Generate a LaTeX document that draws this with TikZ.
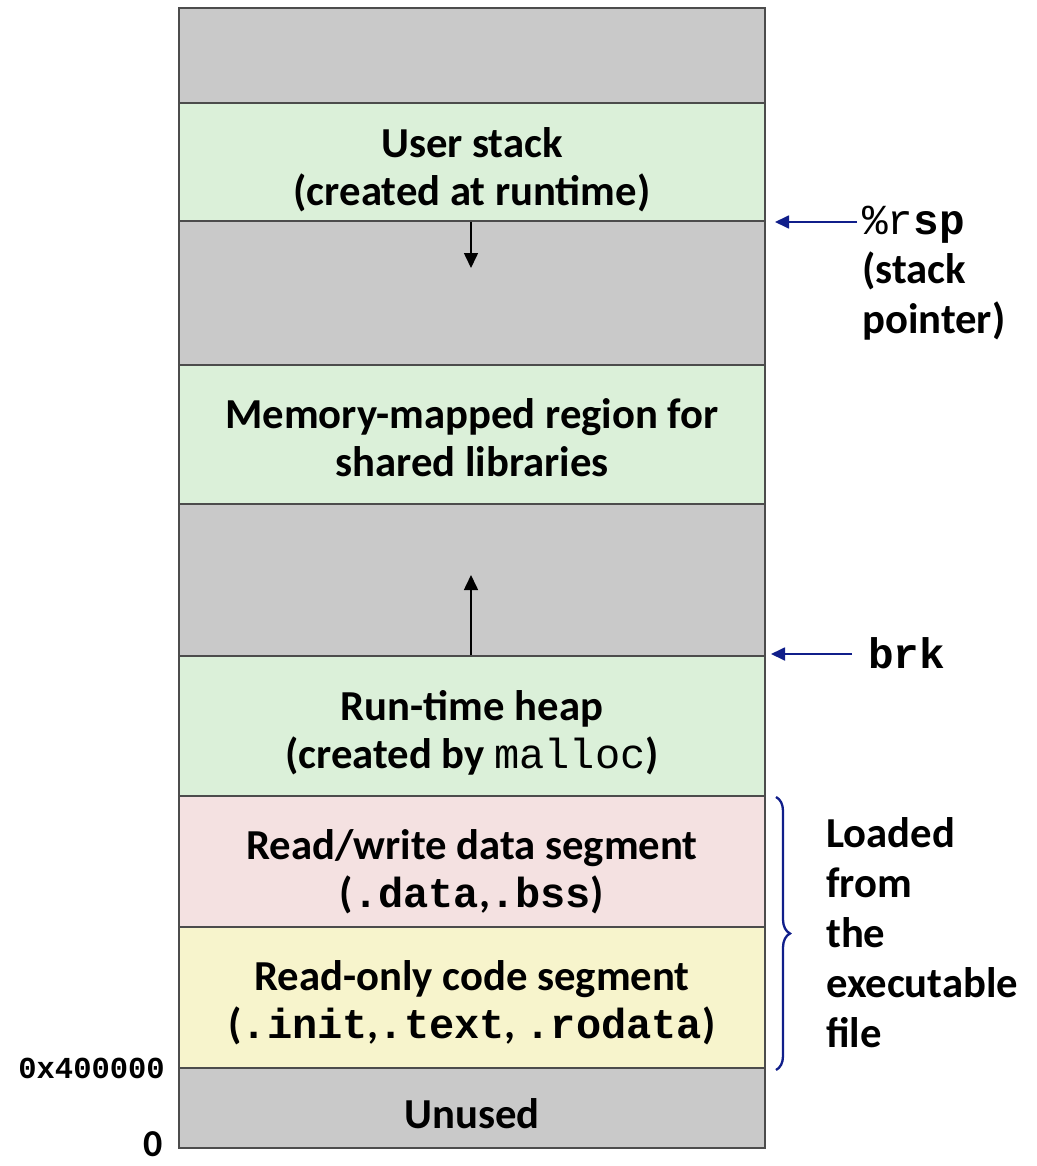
\documentclass[tikz,border=0pt]{standalone}
\usepackage{fontspec}
\setmainfont{Carlito}
\newfontfamily\codefont{Liberation Mono}
\usetikzlibrary{arrows.meta,decorations.pathreplacing}

\definecolor{gapgray}{HTML}{C9C9C9}
\definecolor{stackgreen}{HTML}{DBF0D9}
\definecolor{datapink}{HTML}{F4E1E1}
\definecolor{codeyellow}{HTML}{F7F4CC}
\definecolor{navy}{HTML}{101E8A}

% inline code inside the segment captions
\newcommand{\segcode}[1]{{\fontsize{42}{48}\selectfont\codefont\bfseries #1}}
\newcommand{\segcodelight}[1]{{\fontsize{42}{48}\selectfont\codefont\mdseries #1}}

\begin{document}
\begin{tikzpicture}[x=1pt,y=-1pt,
  seg/.style={draw=black!70, line width=1.3pt, minimum width=586pt,
    inner sep=0pt},
  segtext/.style={inner sep=0pt, align=center,
    font=\fontsize{42.7}{48}\selectfont\bfseries},
  lbl/.style={inner sep=0pt, align=left,
    font=\fontsize{42.7}{50}\selectfont\bfseries},
  growarrow/.style={line width=1.6pt, -{Triangle[length=15pt,width=14pt]}},
  ptrarrow/.style={navy, line width=1.8pt, -{Triangle[length=14pt,width=13pt]}}]

\useasboundingbox (0,0) rectangle (1036,1166);

% address-space segments, top to bottom
\node[seg, fill=gapgray,    minimum height=95pt]  (gaptop)  at (472,55.5) {};
\node[seg, fill=stackgreen, minimum height=118pt,
  label={[segtext, yshift=-8pt]center:{User stack\\(created at runtime)}}]
  (stack)   at (472,162) {};
\node[seg, fill=gapgray,    minimum height=144pt] (gapstk)  at (472,293) {};
\node[seg, fill=stackgreen, minimum height=139pt,
  label={[segtext, yshift=-3.5pt]center:{Memory-mapped region for\\shared libraries}}]
  (mmap)    at (472,434.5) {};
\node[seg, fill=gapgray,    minimum height=152pt] (gapheap) at (472,580) {};
\node[seg, fill=stackgreen, minimum height=140pt,
  label={[segtext, yshift=-6.5pt]center:{Run-time heap\\(created by \segcodelight{malloc})}}]
  (heap)    at (472,726) {};
\node[seg, fill=datapink,   minimum height=131pt,
  label={[segtext, yshift=-10pt]center:{Read/write data segment\\(\segcode{.data},\segcode{.bss})}}]
  (data)    at (472,861.5) {};
\node[seg, fill=codeyellow, minimum height=141pt,
  label={[segtext, yshift=-5.5pt]center:{Read-only code segment\\(\segcode{.init},\segcode{.text}, \segcode{.rodata})}}]
  (code)    at (472,997.5) {};
\node[seg, fill=gapgray,    minimum height=80pt,
  label={[segtext, yshift=-6pt]center:{Unused}}]
  (unused)  at (472,1108) {};

% growth directions of stack and heap
\coordinate (stackgrow) at (471,268);
\coordinate (heapgrow)  at (471,575);
\draw[growarrow] (stack.south -| stackgrow) -- (stackgrow);
\draw[growarrow] (heap.north -| heapgrow) -- (heapgrow);

% stack pointer
\node[lbl, anchor=base west] (rsp) at (862,235)
  {{\codefont\mdseries\%r}{\codefont\bfseries sp}};
\node[lbl, anchor=base west] (rspnote) at (862,333)
  {(stack\\pointer)};
\coordinate (rsptip) at (775,222);
\draw[ptrarrow] (857,222) -- (rsptip);

% program break
\node[lbl, anchor=base west] (brk) at (868,668) {{\codefont\bfseries brk}};
\coordinate (brktip) at (771,654);
\draw[ptrarrow] (852,654) -- (brktip);

% segments loaded from the executable
\draw[navy, line width=2.3pt, decorate,
      decoration={brace, amplitude=14pt, aspect=0.5}]
  (776,797) -- (776,1070);
\node[lbl, anchor=base west] (loaded) at (826,1047)
  {Loaded\\from\\the\\executable\\file};

% addresses
\node[anchor=base east, inner sep=0pt,
      font=\fontsize{30.5}{36}\selectfont\codefont\bfseries] (addr) at (165,1078)
  {0x400000};
\node[anchor=base, inner sep=0pt,
      font=\fontsize{38}{40}\selectfont\bfseries] (zero) at (153,1156) {0};

\end{tikzpicture}
\end{document}
